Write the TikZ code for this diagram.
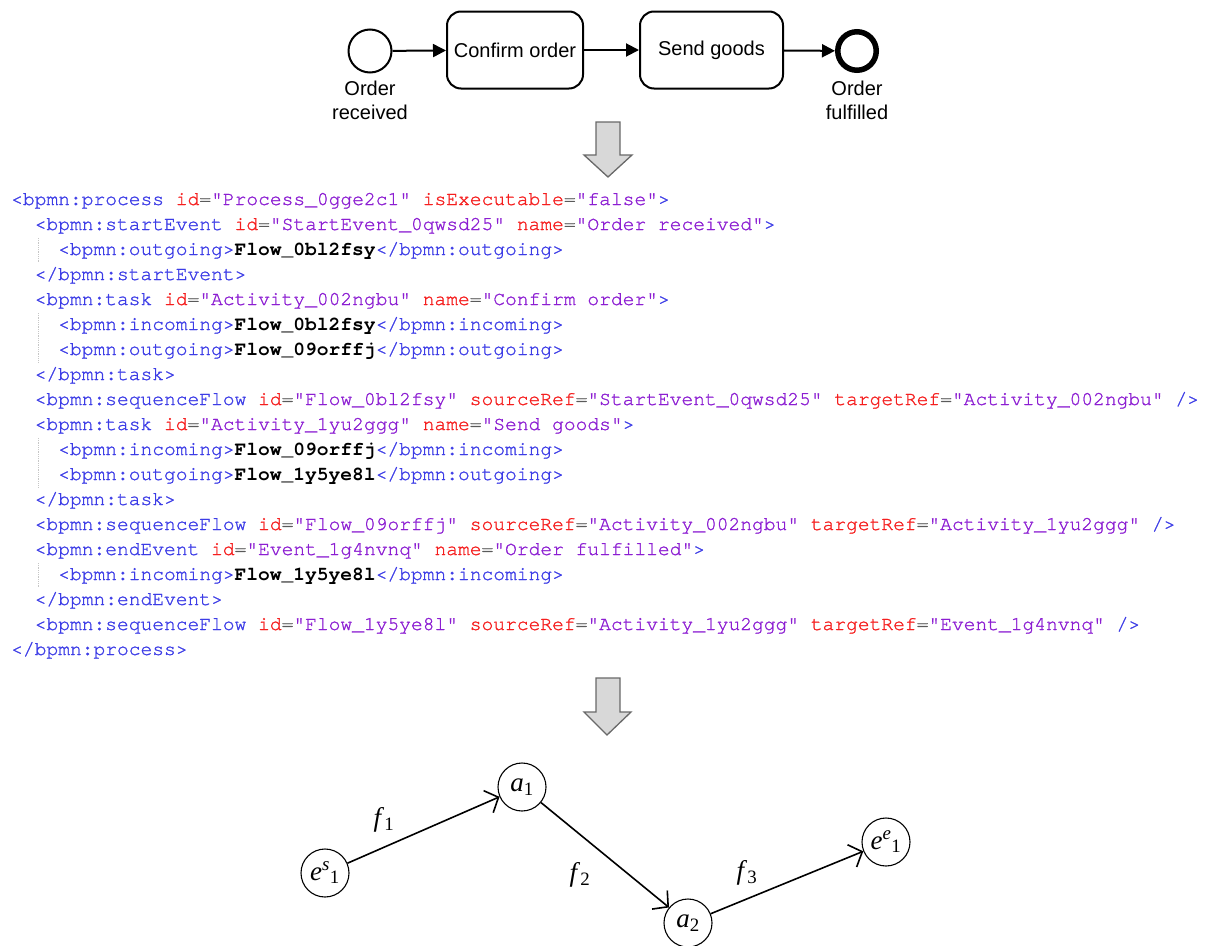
\documentclass[tikz,border=0pt]{standalone}
\usepackage{fontspec}
\setmainfont{Liberation Serif}
\setsansfont{Liberation Sans}
\setmonofont{texgyrecursor}[Extension=.otf, UprightFont=*-regular, BoldFont=*-bold, Ligatures=NoCommon, UprightFeatures={FakeBold=1.2}]
\usetikzlibrary{arrows.meta}
\definecolor{tagc}{RGB}{60,60,230}
\definecolor{attc}{RGB}{245,30,30}
\definecolor{valc}{RGB}{140,30,210}
\definecolor{eqc}{RGB}{90,90,90}
\definecolor{arrfill}{RGB}{216,216,216}
\definecolor{arrline}{RGB}{105,105,105}
\newcommand\tg[1]{\textcolor{tagc}{#1}}
\newcommand\an[1]{\textcolor{attc}{#1}}
\newcommand\av[1]{\textcolor{valc}{#1}}
\newcommand\eq{\textcolor{eqc}{=}}
\newcommand\ct[1]{\textcolor{black}{\bfseries #1}}
\begin{document}
\begin{tikzpicture}[x=1pt,y=-1pt,
  bpmnfont/.style={font=\sffamily\fontsize{20}{24}\selectfont},
  task/.style={draw, line width=2pt, rounded corners=14pt, bpmnfont, minimum height=77pt, inner sep=0pt},
  startev/.style={draw, circle, line width=2pt, minimum size=43pt, inner sep=0pt},
  endev/.style={draw, circle, line width=5.5pt, minimum size=38.5pt, inner sep=0pt},
  evlabel/.style={bpmnfont, align=center, inner sep=0pt},
  flow/.style={line width=2pt, -{Triangle[length=13pt,width=13pt]}},
  codeline/.style={anchor=base west, inner sep=0pt, font=\ttfamily\fontsize{19.6}{25}\selectfont},
  guide/.style={draw=gray!45, line width=0.8pt, densely dotted},
  blockarrow/.style={fill=arrfill, draw=arrline, line width=1.3pt, line join=miter},
  gnode/.style={draw, circle, line width=1.1pt, minimum size=48pt, inner sep=0pt, font=\fontsize{27}{27}\selectfont},
  glabel/.style={font=\fontsize{27}{27}\selectfont, inner sep=0pt},
  gedge/.style={line width=1.6pt, -{Straight Barb[length=11pt,width=24pt,line width=1.6pt]}}
]
\useasboundingbox (0,0) rectangle (1209,945);
\clip (0,0) rectangle (1209,945);

% ---------- BPMN diagram ----------
\node[startev] (se) at (370,51) {};
\node[task, minimum width=136pt] (t1) at (515,50) {Confirm order};
\node[task, minimum width=143pt] (t2) at (711.5,50) {Send goods};
\node[endev] (ee) at (857,51) {};
\node[evlabel] (sel) at (370,100) {Order\\received};
\node[evlabel] (eel) at (857,100) {Order\\fulfilled};
\draw[flow] (se) -- (t1);
\draw[flow] (t1) -- (t2);
\draw[flow] (t2) -- (ee);

% ---------- block arrows ----------
\draw[blockarrow] (596,122) -- (620,122) -- (620,155) -- (632,155) -- (608,177) -- (584,155) -- (596,155) -- cycle;
\draw[blockarrow] (596,678) -- (620,678) -- (620,712) -- (631,712) -- (607,735) -- (584,712) -- (596,712) -- cycle;

% ---------- XML code ----------
\def\xo{11}
\def\cw{11.75}
\draw[guide] (38,238) -- (38,262);
\draw[guide] (38,313) -- (38,362);
\draw[guide] (38,438) -- (38,487);
\draw[guide] (38,563) -- (38,587);

\node[codeline] (l1) at (\xo,205) {\tg{<bpmn:process} \an{id}\eq\av{"Process\_0gge2c1"} \an{isExecutable}\eq\av{"false"}\tg{>}};
\node[codeline] (l2) at (\xo+2*\cw,230) {\tg{<bpmn:startEvent} \an{id}\eq\av{"StartEvent\_0qwsd25"} \an{name}\eq\av{"Order received"}\tg{>}};
\node[codeline] (l3) at (\xo+4*\cw,255) {\tg{<bpmn:outgoing>}\ct{Flow\_0bl2fsy}\tg{</bpmn:outgoing>}};
\node[codeline] (l4) at (\xo+2*\cw,280) {\tg{</bpmn:startEvent>}};
\node[codeline] (l5) at (\xo+2*\cw,305) {\tg{<bpmn:task} \an{id}\eq\av{"Activity\_002ngbu"} \an{name}\eq\av{"Confirm order"}\tg{>}};
\node[codeline] (l6) at (\xo+4*\cw,330) {\tg{<bpmn:incoming>}\ct{Flow\_0bl2fsy}\tg{</bpmn:incoming>}};
\node[codeline] (l7) at (\xo+4*\cw,355) {\tg{<bpmn:outgoing>}\ct{Flow\_09orffj}\tg{</bpmn:outgoing>}};
\node[codeline] (l8) at (\xo+2*\cw,380) {\tg{</bpmn:task>}};
\node[codeline] (l9) at (\xo+2*\cw,405) {\tg{<bpmn:sequenceFlow} \an{id}\eq\av{"Flow\_0bl2fsy"} \an{sourceRef}\eq\av{"StartEvent\_0qwsd25"} \an{targetRef}\eq\av{"Activity\_002ngbu"} \tg{/>}};
\node[codeline] (l10) at (\xo+2*\cw,430) {\tg{<bpmn:task} \an{id}\eq\av{"Activity\_1yu2ggg"} \an{name}\eq\av{"Send goods"}\tg{>}};
\node[codeline] (l11) at (\xo+4*\cw,455) {\tg{<bpmn:incoming>}\ct{Flow\_09orffj}\tg{</bpmn:incoming>}};
\node[codeline] (l12) at (\xo+4*\cw,480) {\tg{<bpmn:outgoing>}\ct{Flow\_1y5ye8l}\tg{</bpmn:outgoing>}};
\node[codeline] (l13) at (\xo+2*\cw,505) {\tg{</bpmn:task>}};
\node[codeline] (l14) at (\xo+2*\cw,530) {\tg{<bpmn:sequenceFlow} \an{id}\eq\av{"Flow\_09orffj"} \an{sourceRef}\eq\av{"Activity\_002ngbu"} \an{targetRef}\eq\av{"Activity\_1yu2ggg"} \tg{/>}};
\node[codeline] (l15) at (\xo+2*\cw,555) {\tg{<bpmn:endEvent} \an{id}\eq\av{"Event\_1g4nvnq"} \an{name}\eq\av{"Order fulfilled"}\tg{>}};
\node[codeline] (l16) at (\xo+4*\cw,580) {\tg{<bpmn:incoming>}\ct{Flow\_1y5ye8l}\tg{</bpmn:incoming>}};
\node[codeline] (l17) at (\xo+2*\cw,605) {\tg{</bpmn:endEvent>}};
\node[codeline] (l18) at (\xo+2*\cw,630) {\tg{<bpmn:sequenceFlow} \an{id}\eq\av{"Flow\_1y5ye8l"} \an{sourceRef}\eq\av{"Activity\_1yu2ggg"} \an{targetRef}\eq\av{"Event\_1g4nvnq"} \tg{/>}};
\node[codeline] (l19) at (\xo,655) {\tg{</bpmn:process>}};

% ---------- graph ----------
\node[gnode] (es) at (325,873) {\textit{e}\textsuperscript{\textit{s}}\textsubscript{1}};
\node[gnode] (a1) at (522,787) {\textit{a}\textsubscript{1}};
\node[gnode] (a2) at (688,923) {\textit{a}\textsubscript{2}};
\node[gnode] (ef) at (886,842) {\textit{e}\textsuperscript{\textit{e}}\textsubscript{1}};
\draw[gedge] (es) -- (a1);
\draw[gedge] (a1) -- (a2);
\draw[gedge] (a2) -- (ef);
\node[glabel] (f1) at (384,820) {\textit{f}\textsubscript{1}};
\node[glabel] (f2) at (580,875) {\textit{f}\textsubscript{2}};
\node[glabel] (f3) at (747,873) {\textit{f}\textsubscript{3}};
\end{tikzpicture}
\end{document}
